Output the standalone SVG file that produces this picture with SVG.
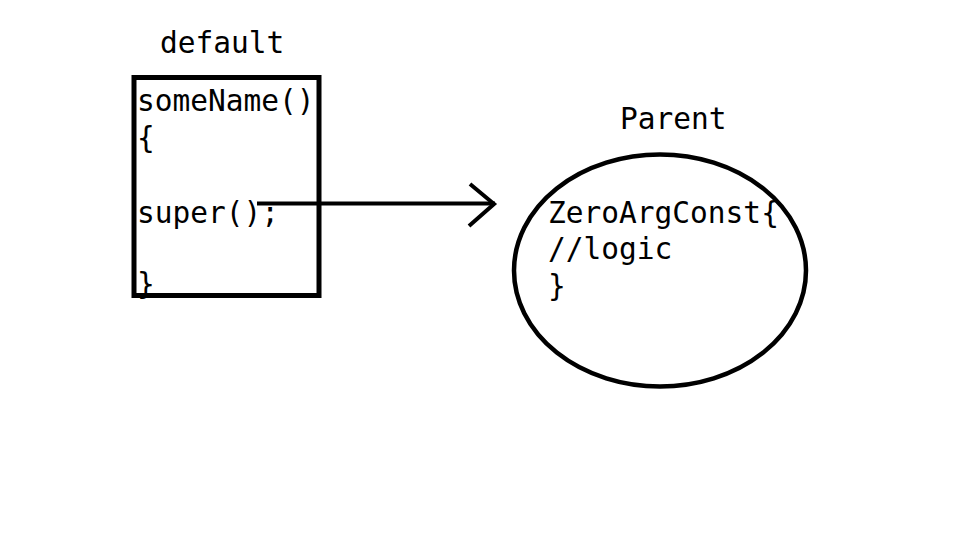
<svg xmlns="http://www.w3.org/2000/svg" width="972" height="550" viewBox="0 0 972 550">
<style>
text{font-family:"DejaVu Sans Mono","Liberation Mono",monospace;font-size:29.5px;fill:#000}
.s{fill:none;stroke:#000}
</style>
<rect width="972" height="550" fill="#fff"/>
<g id="default">
<text x="160" y="53">default</text>
<rect class="s" x="134" y="77.5" width="185" height="218" stroke-width="5"/>
<text x="137" y="111">someName()</text>
<text x="137" y="148">{</text>
<text x="137" y="223">super();</text>
<text x="137" y="294">}</text>
</g>
<g id="parent">
<text x="620" y="129">Parent</text>
<ellipse class="s" cx="660" cy="270.5" rx="146" ry="116" stroke-width="4.5"/>
<text x="548" y="223">ZeroArgConst{</text>
<text x="548" y="259">//logic</text>
<text x="548" y="296">}</text>
</g>
<g id="connectors">
<line class="s" x1="257" y1="203.5" x2="495" y2="203.5" stroke-width="4"/>
<polyline class="s" points="470,184 494,204 469,226" stroke-width="4"/>
</g>
</svg>
